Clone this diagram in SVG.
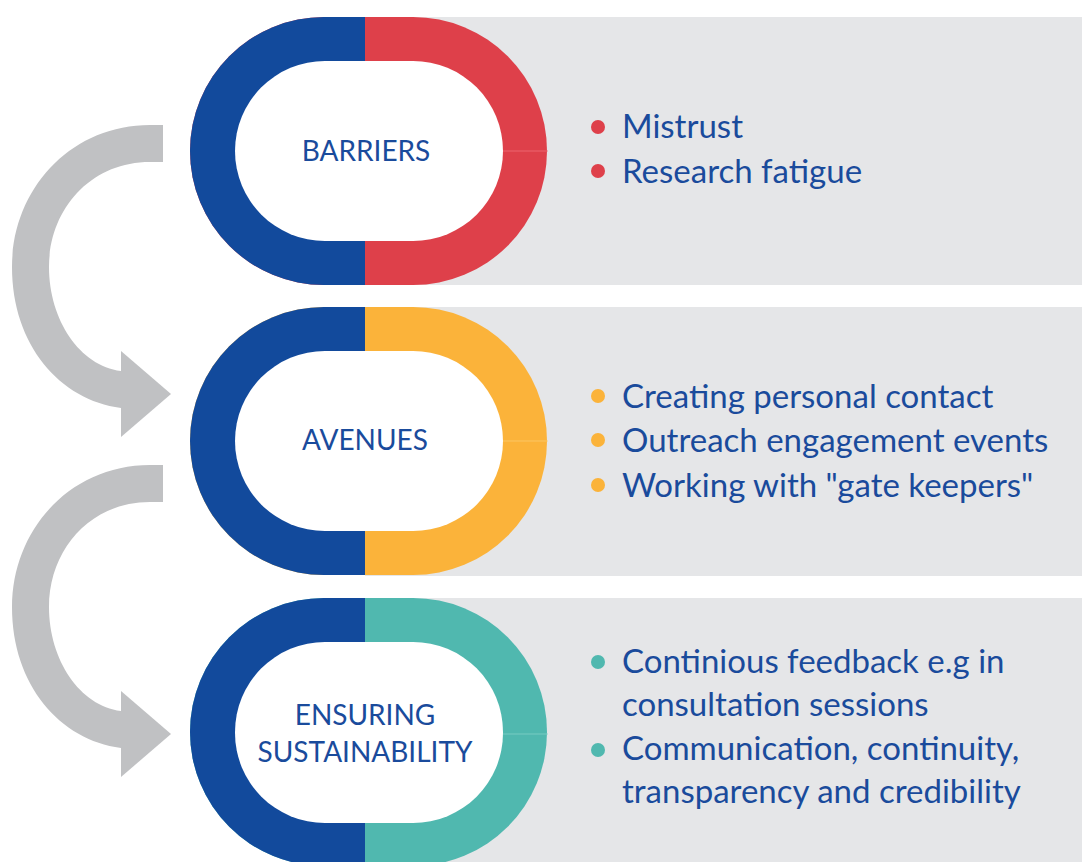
<svg xmlns="http://www.w3.org/2000/svg" width="1082" height="862" viewBox="0 0 1082 862">
<style>
.panel{fill:#E5E6E8}
.blue{fill:#124A9C}
.inner{fill:#FFFFFF}
.lbl{font-family:Lato,"Open Sans","Liberation Sans",sans-serif;font-size:28px;fill:#1A4B9C;text-anchor:middle}
.txt{font-family:Lato,"Open Sans","Liberation Sans",sans-serif;font-size:33px;fill:#1A4B9C}
.arrow{fill:#C0C1C3}
</style>
<defs>
<g id="arrowShape">
<path d="M163,125 L150,125 C70,125 12,190 12,267 C12,345 60,400 121,408 L121,371 C80,366 49,320 49,267 C49,210 90,162 150,162 L163,162 Z"/>
<polygon points="121,351 171,394 121,437"/>
</g>
</defs>
<rect width="1082" height="862" fill="#FFFFFF"/>

<g id="connectors">
<use href="#arrowShape" class="arrow"/>
<use href="#arrowShape" class="arrow" transform="translate(0,340)"/>
</g>

<g id="barriers">
<rect class="panel" x="365" y="17" width="717" height="268"/>
<rect x="190" y="17" width="357" height="268" rx="134" ry="134" fill="#DE404A"/>
<path class="blue" d="M365,17 H324 A134,134 0 0 0 324,285 H365 Z"/>
<line x1="500" y1="151" x2="548" y2="151" stroke="#F07078" stroke-width="0.8"/>
<rect class="inner" x="235" y="61" width="268" height="180" rx="90" ry="90"/>
<text class="lbl" x="366" y="161">BARRIERS</text>
<circle cx="598" cy="127" r="7" fill="#DE404A"/>
<circle cx="598" cy="171" r="7" fill="#DE404A"/>
<text class="txt" x="622" y="138">Mistrust</text>
<text class="txt" x="622" y="183">Research fatigue</text>
</g>

<g id="avenues">
<rect class="panel" x="365" y="307" width="717" height="269"/>
<rect x="190" y="307" width="357" height="268" rx="134" ry="134" fill="#FBB33A"/>
<path class="blue" d="M365,307 H324 A134,134 0 0 0 324,575 H365 Z"/>
<line x1="500" y1="441" x2="548" y2="441" stroke="#FDCB70" stroke-width="0.8"/>
<rect class="inner" x="235" y="351" width="268" height="180" rx="90" ry="90"/>
<text class="lbl" x="365" y="450">AVENUES</text>
<circle cx="598" cy="396" r="7" fill="#FBB33A"/>
<circle cx="598" cy="440" r="7" fill="#FBB33A"/>
<circle cx="598" cy="485" r="7" fill="#FBB33A"/>
<text class="txt" x="622" y="408">Creating personal contact</text>
<text class="txt" x="622" y="452">Outreach engagement events</text>
<text class="txt" x="622" y="497">Working with "gate keepers"</text>
</g>

<g id="sustainability">
<rect class="panel" x="365" y="598" width="717" height="264"/>
<rect x="190" y="598" width="357" height="268" rx="134" ry="134" fill="#50B8AF"/>
<path class="blue" d="M365,598 H324 A134,134 0 0 0 324,866 H365 Z"/>
<line x1="500" y1="734" x2="548" y2="734" stroke="#80D0C8" stroke-width="0.8"/>
<rect class="inner" x="235" y="642" width="268" height="181" rx="90" ry="90"/>
<text class="lbl" x="365" y="725">ENSURING</text>
<text class="lbl" x="365" y="762">SUSTAINABILITY</text>
<circle cx="598" cy="662" r="7" fill="#50B8AF"/>
<circle cx="598" cy="750" r="7" fill="#50B8AF"/>
<text class="txt" x="622" y="673">Continious feedback e.g in</text>
<text class="txt" x="622" y="716">consultation sessions</text>
<text class="txt" x="622" y="760">Communication, continuity,</text>
<text class="txt" x="622" y="803">transparency and credibility</text>
</g>
</svg>
